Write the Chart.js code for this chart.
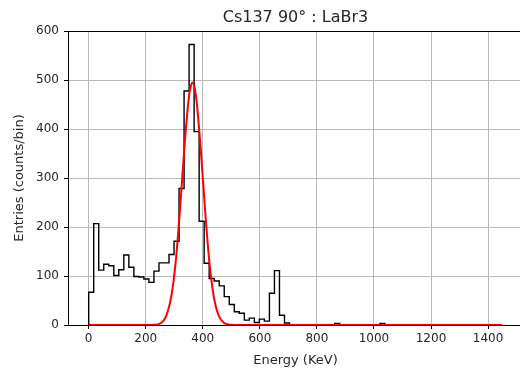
<!DOCTYPE html>
<html>
<head>
<meta charset="utf-8">
<script src="https://cdn.jsdelivr.net/npm/chart.js@4"></script>
<style>
  html, body { margin: 0; padding: 0; overflow: hidden; background: #fff; }
  #wrap { width: 530px; height: 368px; }
</style>
</head>
<body>
<div id="wrap"><canvas id="histChart" width="530" height="368"></canvas></div>
<script>
// histogram: fixed-width bins starting at 0 keV
const binStart = 0;
const binWidth = 17.6;
const counts = [
    67, 207, 112, 124, 121, 101, 113, 143, 118, 99,
    98, 94, 87, 110, 127, 127, 144, 171, 279, 478,
    573, 395, 212, 126, 95, 90, 80, 58, 42, 27,
    24, 10, 14, 5, 12, 8, 65, 111, 20, 4,
    0, 0, 0, 0, 0, 0, 0, 0, 0, 3,
    0, 0, 0, 0, 0, 0, 0, 0, 3, 0,
    0, 0, 0, 0, 0, 0, 0, 0, 0, 0,
    0, 0, 0, 0, 0, 0, 0, 0, 0, 0,
    0, 0
];

// red fit curve
const fitEnergy = [0, 200, 230, 250, 270, 290, 305, 320, 335, 350, 357, 364, 371, 378, 393, 408, 423, 438, 455, 475, 500, 530, 1450];
const fitValue  = [0, 0, 0.5, 3, 16, 60, 129, 235, 358, 459, 486, 495, 486, 459, 358, 235, 129, 60, 20, 4, 0.4, 0, 0];

const xTicks = [0, 200, 400, 600, 800, 1000, 1200, 1400];
const yTicks = [0, 100, 200, 300, 400, 500, 600];

const titleText = 'Cs137 90° : LaBr3';
const xLabel = 'Energy (KeV)';
const yLabel = 'Entries (counts/bin)';

// step outline like histtype='step'
const histPoints = [{ x: binStart, y: 0 }];
counts.forEach((c, i) => histPoints.push({ x: binStart + i * binWidth, y: c }));
histPoints.push({ x: binStart + counts.length * binWidth, y: 0 });

const fitPoints = fitEnergy.map((e, i) => ({ x: e, y: fitValue[i] }));

const font = 'DejaVu Sans';
const textColor = '#262626';

const framePlugin = {
    id: 'frame',
    afterDraw(chart) {
        const { ctx, chartArea: a } = chart;
        ctx.save();
        ctx.strokeStyle = '#000';
        ctx.lineWidth = 1;
        ctx.beginPath();
        ctx.moveTo(a.left, Math.round(a.top) + 0.5);
        ctx.lineTo(a.right, Math.round(a.top) + 0.5);
        ctx.stroke();
        ctx.fillStyle = textColor;
        ctx.font = '16px "' + font + '"';
        ctx.textAlign = 'center';
        ctx.textBaseline = 'middle';
        ctx.fillText(titleText, (a.left + a.right) / 2, 18);
        ctx.restore();
    }
};

const ctx = document.getElementById('histChart').getContext('2d');
const histChart = new Chart(ctx, {
    type: 'line',
    data: {
        datasets: [{
            label: 'fit',
            data: fitPoints,
            borderColor: '#ff0000',
            borderWidth: 2,
            pointRadius: 0,
            cubicInterpolationMode: 'monotone',
            fill: false,
            order: 0
        }, {
            label: 'hist',
            data: histPoints,
            borderColor: '#000000',
            borderWidth: 1.4,
            pointRadius: 0,
            stepped: 'before',
            fill: false,
            order: 1
        }]
    },
    options: {
        responsive: false,
        animation: false,
        devicePixelRatio: 1,
        layout: { padding: { top: 31, right: 7, bottom: 0, left: 0 } },
        plugins: {
            legend: { display: false },
            tooltip: { enabled: false },
            title: { display: false }
        },
        scales: {
            x: {
                type: 'linear',
                min: -72.5,
                max: 1522.5,
                afterBuildTicks: (s) => { s.ticks = xTicks.map(v => ({ value: v })); },
                afterFit: (s) => { s.height = 43; },
                ticks: {
                    color: textColor,
                    font: { family: font, size: 12 },
                    padding: 3,
                    maxRotation: 0,
                    callback: (v) => String(v)
                },
                grid: { color: '#b8b8b8', lineWidth: 1, tickLength: 4, tickColor: '#000' },
                border: { color: '#000', width: 1 },
                title: {
                    display: true,
                    text: xLabel,
                    color: textColor,
                    font: { family: font, size: 13 },
                    padding: { top: 0, bottom: 0 }
                }
            },
            y: {
                min: 0,
                max: 600.6,
                afterBuildTicks: (s) => { s.ticks = yTicks.map(v => ({ value: v })); },
                afterFit: (s) => { s.width = 68; },
                ticks: {
                    color: textColor,
                    font: { family: font, size: 12 },
                    padding: 5,
                    callback: (v) => String(v)
                },
                grid: { color: '#b8b8b8', lineWidth: 1, tickLength: 4, tickColor: '#000' },
                border: { color: '#000', width: 1 },
                title: {
                    display: true,
                    text: yLabel,
                    color: textColor,
                    font: { family: font, size: 13 },
                    padding: { top: 12, bottom: 0 }
                }
            }
        }
    },
    plugins: [framePlugin]
});
</script>
</body>
</html>
